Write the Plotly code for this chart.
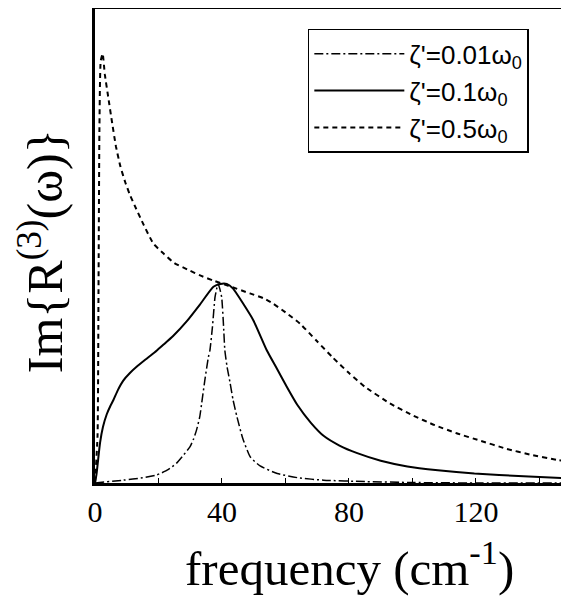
import plotly.graph_objects as go

# frequency (cm^-1) and Im{R3} in arbitrary units (0..1 = full axis)
x_001 = [0, 8.9, 15, 19.4, 23, 25.7, 28, 29.9, 31, 32, 33, 33.6, 34.6, 35.7, 36.2, 37, 37.8, 38.4, 38.8, 39.3, 39.9, 40.5, 40.9, 41.6, 42.5, 43.5, 44.7, 46.5, 48.9, 52, 57.4, 64, 72, 85, 100, 120, 149.3]
y_001 = [0, 0.006, 0.011, 0.017, 0.028, 0.042, 0.06, 0.076, 0.092, 0.112, 0.14, 0.168, 0.217, 0.265, 0.28, 0.33, 0.392, 0.412, 0.42, 0.41, 0.392, 0.33, 0.28, 0.245, 0.213, 0.175, 0.14, 0.095, 0.055, 0.036, 0.02, 0.011, 0.006, 0.003, 0.001, 0, 0]

x_01 = [0, 0.5, 1.0, 1.6, 2.5, 3.7, 4.8, 5.8, 7.2, 8.9, 11, 13.1, 16, 19.4, 21.6, 24.6, 29, 33.1, 37.3, 39.5, 41.5, 43.5, 46.7, 49.9, 54.1, 57.4, 60.4, 63.7, 68, 72.1, 77, 82.6, 90, 98.4, 108, 119.5, 135, 149.3]
y_01 = [0, 0.02, 0.05, 0.085, 0.118, 0.145, 0.162, 0.175, 0.196, 0.216, 0.232, 0.245, 0.261, 0.279, 0.292, 0.31, 0.342, 0.377, 0.414, 0.42, 0.42, 0.41, 0.378, 0.343, 0.28, 0.24, 0.203, 0.165, 0.127, 0.099, 0.079, 0.063, 0.047, 0.035, 0.027, 0.02, 0.014, 0.01]

x_05 = [0, 0.8, 1.1, 1.4, 1.8, 2.4, 3.1, 4.2, 5.3, 6.6, 8, 9.5, 11, 13, 15.3, 18.4, 21.6, 25, 29.9, 33.1, 37.3, 42, 48.8, 53, 56.2, 60, 64.6, 69.8, 75, 80, 85, 92.9, 100, 107, 113.9, 121, 129.7, 137, 145.4, 149.3]
y_05 = [0, 0.1, 0.4, 0.75, 0.89, 0.906, 0.862, 0.813, 0.764, 0.71, 0.668, 0.635, 0.608, 0.578, 0.545, 0.505, 0.484, 0.464, 0.448, 0.438, 0.427, 0.416, 0.40, 0.39, 0.378, 0.36, 0.336, 0.30, 0.264, 0.232, 0.203, 0.168, 0.143, 0.122, 0.105, 0.09, 0.072, 0.06, 0.049, 0.045]

fig = go.Figure()

fig.add_trace(go.Scatter(x=x_001, y=y_001, mode='lines', name="ζ'=0.01ω<sub>0</sub>",
                         line=dict(color='black', width=1.5, dash='9px,3px,2px,3px', shape='spline', smoothing=0.5)))
fig.add_trace(go.Scatter(x=x_01, y=y_01, mode='lines', name="ζ'=0.1ω<sub>0</sub>",
                         line=dict(color='black', width=2, shape='spline', smoothing=0.5)))
fig.add_trace(go.Scatter(x=x_05, y=y_05, mode='lines', name="ζ'=0.5ω<sub>0</sub>",
                         line=dict(color='black', width=2, dash='5px,4px', shape='spline', smoothing=0.5)))

# page body has an 8px margin, so the figure is a bit smaller than the window
fig.update_layout(
    width=561, height=593,
    margin=dict(l=87, r=0, t=1, b=118),
    plot_bgcolor='white', paper_bgcolor='white',
    font=dict(family='Liberation Serif', color='black'),
    legend=dict(x=0.449, y=0.958, xanchor='left', yanchor='top',
                bordercolor='black', borderwidth=1.5, bgcolor='white',
                font=dict(family='Liberation Sans', size=26), itemwidth=90,
                tracegroupgap=0),
    annotations=[
        dict(text='frequency (cm<sup>-1</sup>)', xref='paper', yref='paper',
             x=0.536, y=-0.171, xanchor='center', yanchor='middle',
             showarrow=False, font=dict(size=49)),
        dict(text='Im{R<sup>(3)</sup>(ω)}', xref='paper', yref='paper',
             x=-0.113, y=0.49, xanchor='center', yanchor='middle', textangle=-90,
             showarrow=False, font=dict(size=50)),
    ],
)

fig.update_xaxes(range=[0, 149.3], showgrid=False, zeroline=False, automargin=False,
                 showline=True, linecolor='black', linewidth=3, mirror=True,
                 tickvals=[0, 40, 80, 120], ticks='inside', ticklen=5, tickcolor='black',
                 minor=dict(tickvals=[20, 60, 100, 140], ticks='inside', ticklen=5, tickcolor='black'),
                 tickfont=dict(size=30, family='Liberation Serif'))
fig.update_yaxes(range=[0, 1], showgrid=False, zeroline=False, automargin=False,
                 showline=True, linecolor='black', linewidth=3,
                 showticklabels=False, ticks='')

fig.write_html("out.html")
